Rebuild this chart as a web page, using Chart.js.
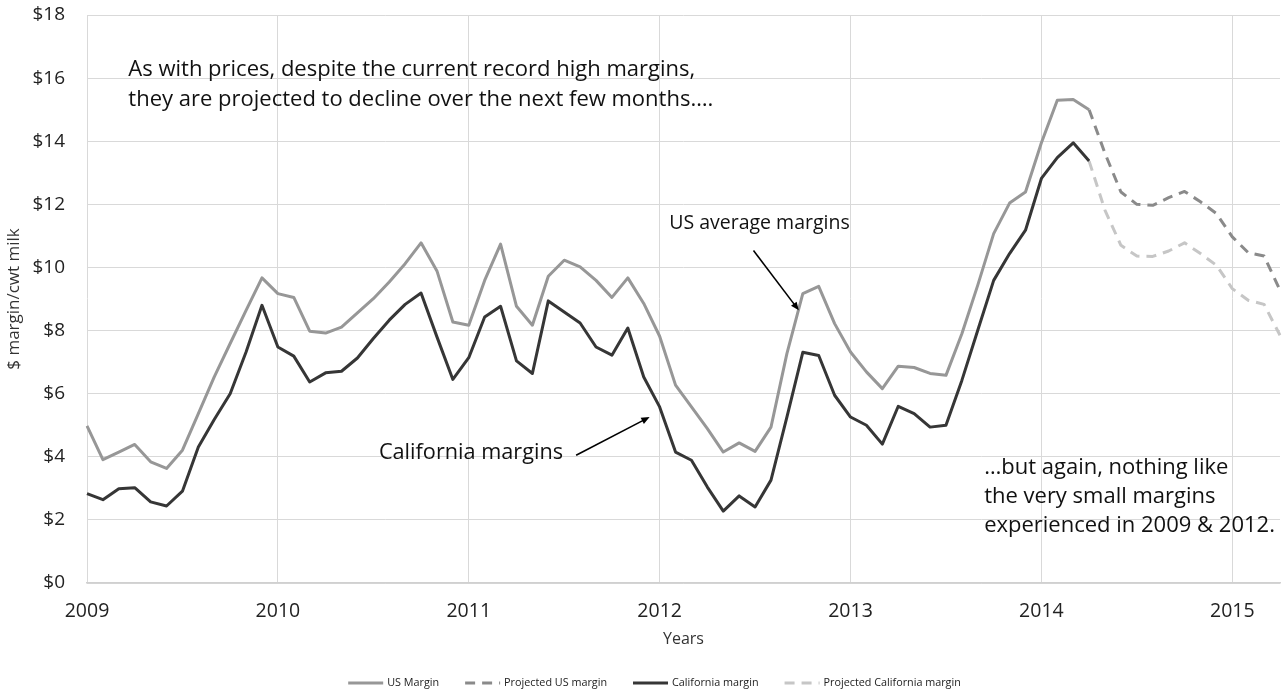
<!DOCTYPE html>
<html>
<head>
<meta charset="utf-8">
<title>US vs California dairy margins</title>
<script src="https://cdn.jsdelivr.net/npm/chart.js@4.4.1/dist/chart.umd.min.js"></script>
<style>
  html, body { margin: 0; padding: 0; background: #fff; }
  #wrap { width: 1287px; height: 694px; position: relative; }
</style>
</head>
<body>
<div id="wrap"><canvas id="marginChart"></canvas></div>
<script>
// ---- data ($ margin / cwt milk, monthly) ----
const years = ['2009', '2010', '2011', '2012', '2013', '2014', '2015'];
const monthNames = ['Jan', 'Feb', 'Mar', 'Apr', 'May', 'Jun', 'Jul', 'Aug', 'Sep', 'Oct', 'Nov', 'Dec'];
const monthCount = 76; // Jan 2009 .. Apr 2015

// actuals: Jan 2009 .. Apr 2014
const usMargin = [
  4.98, 3.91, 4.15, 4.39, 3.84, 3.63, 4.21, 5.37, 6.53, 7.59, 8.64, 9.67,
  9.17, 9.05, 7.98, 7.92, 8.11, 8.56, 9.01, 9.54, 10.12, 10.78, 9.89, 8.27,
  8.17, 9.59, 10.74, 8.77, 8.17, 9.72, 10.23, 10.02, 9.59, 9.05, 9.67, 8.86,
  7.82, 6.27, 5.58, 4.89, 4.15, 4.44, 4.17, 4.94, 7.27, 9.17, 9.40, 8.22,
  7.32, 6.69, 6.16, 6.87, 6.83, 6.64, 6.58, 7.90, 9.44, 11.07, 12.04, 12.39,
  13.95, 15.30, 15.32, 15.00
];
const caMargin = [
  2.83, 2.64, 2.99, 3.02, 2.57, 2.44, 2.91, 4.31, 5.18, 6.00, 7.32, 8.80,
  7.48, 7.19, 6.37, 6.66, 6.71, 7.13, 7.75, 8.33, 8.83, 9.19, 7.80, 6.45,
  7.14, 8.43, 8.77, 7.04, 6.64, 8.94, 8.59, 8.24, 7.48, 7.22, 8.08, 6.53,
  5.58, 4.15, 3.89, 3.04, 2.28, 2.76, 2.41, 3.26, 5.26, 7.31, 7.21, 5.95,
  5.26, 5.00, 4.40, 5.60, 5.37, 4.94, 5.00, 6.42, 8.01, 9.59, 10.44, 11.18,
  12.82, 13.48, 13.95, 13.37
];

// projections: Apr 2014 .. Apr 2015
const projStart = 63;
const usProjected = [15.00, 13.61, 12.39, 12.00, 11.97, 12.21, 12.41, 12.08, 11.71, 10.97, 10.47, 10.36, 9.28];
const caProjected = [13.37, 11.81, 10.70, 10.36, 10.35, 10.52, 10.78, 10.44, 10.07, 9.33, 8.96, 8.83, 7.85];

const yTicks = { min: 0, max: 18, step: 2 };

// ---- labels (one per month) ----
const monthLabels = [];
years.forEach(y => monthNames.forEach(m => monthLabels.push(m + ' ' + y)));
monthLabels.length = monthCount;

const padFront = (arr, n) => Array(n).fill(null).concat(arr);

// ---- annotations, in data units (month index, $) ----
const notes = [
  { text: 'As with prices, despite the current record high margins,', x: 2.6, y: 16.25, size: 22 },
  { text: 'they are projected to decline over the next few months\u2026.', x: 2.6, y: 15.3, size: 22 },
  { text: 'US average margins', x: 36.6, y: 11.4, size: 19.5 },
  { text: 'California margins', x: 18.35, y: 4.11, size: 21.7 },
  { text: '\u2026but again, nothing like', x: 56.4, y: 3.64, size: 22 },
  { text: 'the very small margins', x: 56.4, y: 2.72, size: 22 },
  { text: 'experienced in 2009 & 2012.', x: 56.4, y: 1.83, size: 22 }
];
const arrows = [
  { from: [41.9, 10.54], to: [44.75, 8.64] },
  { from: [30.75, 4.05], to: [35.37, 5.26] }
];

const FONT = "'Open Sans', 'DejaVu Sans', sans-serif";
Chart.defaults.font.family = FONT;
Chart.defaults.color = '#222';

// text + arrows on the plot
const notesPlugin = {
  id: 'notes',
  afterDatasetsDraw(chart) {
    const { ctx, scales: { x, y } } = chart;
    ctx.save();
    ctx.fillStyle = '#111';
    ctx.textAlign = 'left';
    ctx.textBaseline = 'middle';
    notes.forEach(n => {
      ctx.font = n.size + 'px ' + FONT;
      ctx.fillText(n.text, x.getPixelForValue(n.x), y.getPixelForValue(n.y));
    });

    ctx.strokeStyle = '#000';
    ctx.fillStyle = '#000';
    ctx.lineWidth = 1.6;
    arrows.forEach(a => {
      const x0 = x.getPixelForValue(a.from[0]), y0 = y.getPixelForValue(a.from[1]);
      const x1 = x.getPixelForValue(a.to[0]), y1 = y.getPixelForValue(a.to[1]);
      const ang = Math.atan2(y1 - y0, x1 - x0);
      const head = 9;
      ctx.beginPath();
      ctx.moveTo(x0, y0);
      ctx.lineTo(x1 - Math.cos(ang) * head * 0.8, y1 - Math.sin(ang) * head * 0.8);
      ctx.stroke();
      ctx.beginPath();
      ctx.moveTo(x1, y1);
      ctx.lineTo(x1 - head * Math.cos(ang - 0.4), y1 - head * Math.sin(ang - 0.4));
      ctx.lineTo(x1 - head * Math.cos(ang + 0.4), y1 - head * Math.sin(ang + 0.4));
      ctx.closePath();
      ctx.fill();
    });
    ctx.restore();
  }
};

// legend at the bottom (drawn by hand so the spacing matches)
const legendPlugin = {
  id: 'bottomLegend',
  afterDraw(chart) {
    const { ctx } = chart;
    const lineLen = 35, gap = 4, itemGap = 26, yPos = 683;
    ctx.save();
    ctx.font = '10.8px ' + FONT;
    ctx.textBaseline = 'middle';
    const items = chart.data.datasets.map(ds => ({ ds, w: ctx.measureText(ds.label).width }));
    const total = items.reduce((s, it) => s + lineLen + gap + it.w, 0) + itemGap * (items.length - 1);
    let xPos = chart.width / 2 + 11 - total / 2;
    items.forEach(({ ds, w }) => {
      ctx.strokeStyle = ds.borderColor;
      ctx.lineWidth = 3;
      ctx.setLineDash(ds.borderDash || []);
      ctx.beginPath();
      ctx.moveTo(xPos, yPos);
      ctx.lineTo(xPos + lineLen, yPos);
      ctx.stroke();
      ctx.setLineDash([]);
      ctx.fillStyle = '#222';
      ctx.fillText(ds.label, xPos + lineLen + gap, yPos);
      xPos += lineLen + gap + w + itemGap;
    });
    ctx.restore();
  }
};

const lineStyle = { borderWidth: 3, pointRadius: 0, pointHoverRadius: 0, tension: 0, borderJoinStyle: 'round', spanGaps: false };

new Chart(document.getElementById('marginChart'), {
  type: 'line',
  data: {
    labels: monthLabels,
    datasets: [
      { label: 'US Margin', data: usMargin, borderColor: '#979797', ...lineStyle },
      { label: 'Projected US margin', data: padFront(usProjected, projStart), borderColor: '#8a8a8a', borderDash: [10, 7], ...lineStyle },
      { label: 'California margin', data: caMargin, borderColor: '#363636', ...lineStyle },
      { label: 'Projected California margin', data: padFront(caProjected, projStart), borderColor: '#c6c6c6', borderDash: [10, 7], ...lineStyle }
    ]
  },
  options: {
    responsive: true,
    maintainAspectRatio: false,
    animation: false,
    layout: { padding: { top: 15, right: 7, bottom: 41, left: 0 } },
    plugins: {
      legend: { display: false },
      tooltip: { enabled: false }
    },
    scales: {
      x: {
        type: 'category',
        offset: false,
        grid: {
          color: c => (c.index % 12 === 0 ? '#d9d9d9' : 'rgba(0,0,0,0)'),
          lineWidth: 1,
          drawTicks: false
        },
        border: { color: '#d0d0d0', width: 1.5 },
        ticks: {
          autoSkip: false,
          maxRotation: 0,
          padding: 17,
          font: { size: 19.5 },
          color: '#222',
          callback: (v, i) => (i % 12 === 0 ? monthLabels[i].slice(-4) : '')
        },
        title: { display: true, text: 'Years', font: { size: 16 }, color: '#333', padding: { top: 4, bottom: 4 } },
        afterFit: s => { s.height = 70; s.paddingLeft = 0; s.paddingRight = 0; }
      },
      y: {
        min: yTicks.min,
        max: yTicks.max,
        grid: { color: '#d9d9d9', lineWidth: 1, drawTicks: false },
        border: { display: false },
        ticks: {
          stepSize: yTicks.step,
          padding: 22,
          font: { size: 19 },
          color: '#222',
          callback: v => '$' + v
        },
        title: { display: true, text: '$ margin/cwt milk', font: { size: 17 }, color: '#333', padding: { top: 4, bottom: 4 } },
        afterFit: s => { s.width = 87; s.paddingTop = 0; s.paddingBottom = 0; }
      }
    }
  },
  plugins: [notesPlugin, legendPlugin]
});
</script>
</body>
</html>
